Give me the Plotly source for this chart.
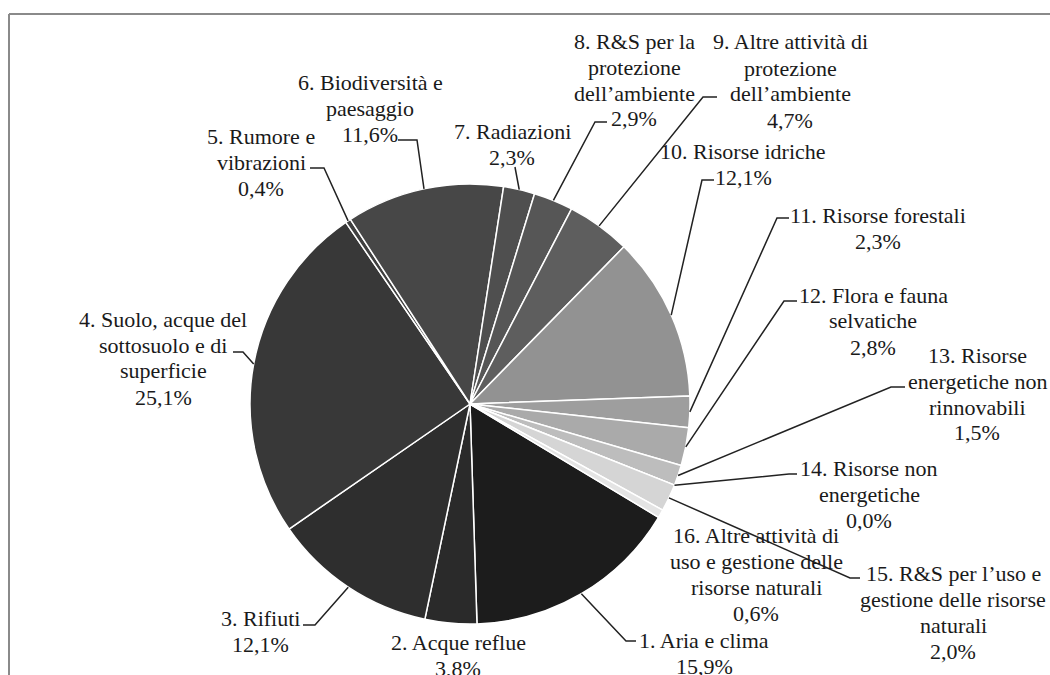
import math
import plotly.graph_objects as go

W, H = 1050, 675

# dati (percentuali) nell'ordine delle fette
labels = [
    "1. Aria e clima",
    "2. Acque reflue",
    "3. Rifiuti",
    "4. Suolo, acque del<br>sottosuolo e di<br>superficie",
    "5. Rumore e<br>vibrazioni",
    "6. Biodiversità e<br>paesaggio",
    "7. Radiazioni",
    "8. R&S per la<br>protezione<br>dell’ambiente",
    "9. Altre attività di<br>protezione<br>dell’ambiente",
    "10. Risorse idriche",
    "11. Risorse forestali",
    "12. Flora e fauna<br>selvatiche",
    "13. Risorse<br>energetiche non<br>rinnovabili",
    "14. Risorse non<br>energetiche",
    "15. R&S per l’uso e<br>gestione delle risorse<br>naturali",
    "16. Altre attività di<br>uso e gestione delle<br>risorse naturali",
]
values = [15.9, 3.8, 12.1, 25.1, 0.4, 11.6, 2.3, 2.9, 4.7, 12.1, 2.3, 2.8, 1.5, 0.0, 2.0, 0.6]

# stile
colors = ["#1c1c1c", "#2a2a2a", "#2e2e2e", "#383838", "#404040", "#474747", "#4f4f4f", "#565656",
          "#5e5e5e", "#929292", "#9e9e9e", "#aaaaaa", "#bdbdbd", "#c8c8c8", "#d5d5d5", "#e4e4e4"]

# centro di ogni blocco di testo (pixel)
label_pos = [(704, 653), (458, 655), (260, 631), (163, 358), (261, 162), (370, 109), (512, 144),
             (634, 80), (790, 81), (743, 164), (878, 228), (873, 321), (977, 394), (869, 494),
             (953, 612), (756, 574)]
# punto di aggancio della linea guida e lunghezza del tratto orizzontale (pixel)
leader_pos = [(636, 641, -10), None, (303, 625, 12), (233, 352, 10), (310, 168, 14), (398, 140, 19),
              (515, 167, 0), (607, 122, -12), (717, 97, -14), (714, 180, -12), (789, 218, -12),
              (797, 301, -13), (905, 387, -14), (797, 474, -8), (860, 578, -10), None]

CX, CY, R = 470, 404, 220
ROT = 121
FONT = "Liberation Serif, Times New Roman, serif"
FS = 22
LS = 26  # interlinea


def px(x):
    return x / W


def py(y):
    return 1 - y / H


fig = go.Figure()
fig.add_trace(go.Pie(
    values=values,
    labels=[l.split("<br>")[0] for l in labels],
    sort=False,
    direction="clockwise",
    rotation=ROT,
    textinfo="none",
    hoverinfo="label+percent",
    marker=dict(colors=colors, line=dict(color="white", width=1.5)),
    domain=dict(x=[px(CX - R), px(CX + R)], y=[py(CY + R), py(CY - R)]),
    showlegend=False,
))

total = sum(values)
cum = 0
shapes = []
annotations = []
for lab, v, pos, ld in zip(labels, values, label_pos, leader_pos):
    mid = ROT + (cum + v / 2) / total * 360
    cum += v
    lines = lab.split("<br>") + [f"{v:.1f}".replace(".", ",") + "%"]
    n = len(lines)
    for i, t in enumerate(lines):
        yy = pos[1] + (i - (n - 1) / 2) * LS
        annotations.append(dict(
            x=px(pos[0]), y=py(yy), xref="paper", yref="paper", text=t,
            showarrow=False, xanchor="center", yanchor="middle", align="center",
            font=dict(family=FONT, size=FS, color="#1a1a1a"),
        ))
    if ld is None:
        continue
    a = math.radians(mid)
    ex, ey = CX + R * math.sin(a), CY - R * math.cos(a)
    ax, ay, dx = ld
    path = f"M {px(ex)} {py(ey)} L {px(ax + dx)} {py(ay)} L {px(ax)} {py(ay)}"
    shapes.append(dict(type="path", xref="paper", yref="paper", path=path,
                       line=dict(color="#222222", width=1.5)))

# cornice (solo lato superiore e sinistro visibili)
shapes.append(dict(type="line", xref="paper", yref="paper", x0=px(9), y0=py(14), x1=1, y1=py(14),
                   line=dict(color="#8a8a8a", width=2)))
shapes.append(dict(type="line", xref="paper", yref="paper", x0=px(9), y0=py(14), x1=px(9), y1=0,
                   line=dict(color="#8a8a8a", width=2)))

fig.update_layout(
    width=W, height=H,
    margin=dict(l=0, r=0, t=0, b=0),
    paper_bgcolor="white",
    plot_bgcolor="white",
    font=dict(family=FONT),
    shapes=shapes,
    annotations=annotations,
)

fig.write_html("out.html", config=dict(displayModeBar=False),
               post_script="document.body.style.margin='0';")
